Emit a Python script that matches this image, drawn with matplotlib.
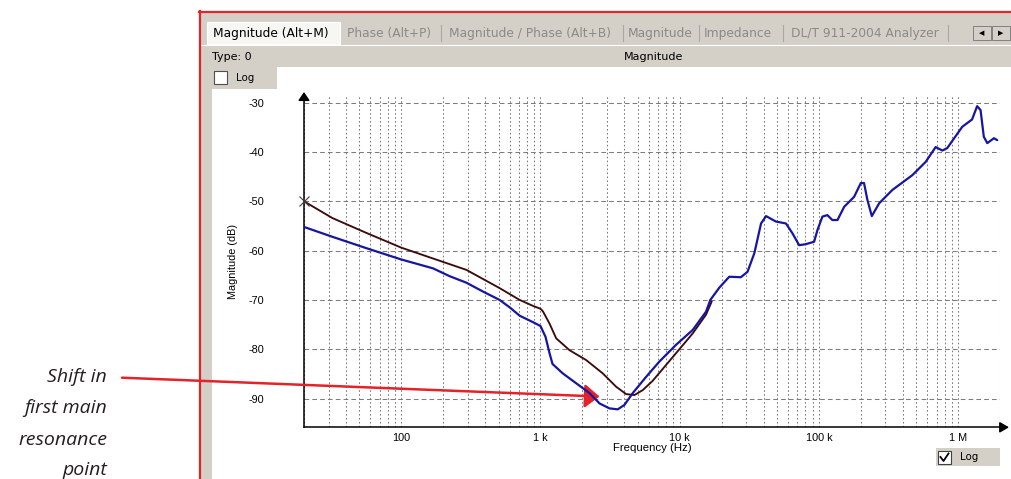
import matplotlib
matplotlib.use('Agg')
import matplotlib.pyplot as plt
from matplotlib.patches import Rectangle
from matplotlib.lines import Line2D
from matplotlib.ticker import FixedLocator, FixedFormatter, NullFormatter, LogLocator

plt.rcParams['axes.unicode_minus'] = False

W, H, DPI = 1012, 479, 100

# ---------------- data ----------------
brown_freq = [20, 32, 56, 100, 169, 293, 508, 708, 881, 1000, 1040, 1161, 1297,
              1616, 2128, 2800, 3491, 4120, 4729, 5425, 6400, 7980, 9950,
              12400, 15450, 17000]
brown_db = [-50.0, -53.4, -56.4, -59.4, -61.6, -63.9, -67.6, -70.0, -71.2, -71.8,
            -72.3, -74.8, -77.8, -80.2, -82.2, -84.9, -87.6, -89.1, -89.3, -88.3,
            -86.4, -83.2, -80.0, -76.8, -73.0, -70.3]

blue_freq = [20, 32, 56, 100, 169, 223, 293, 386, 508, 600, 708, 881, 1000, 1087,
             1161, 1220, 1445, 1803, 2249, 2655, 3127, 3589, 4009, 4600, 5741,
             7150, 9420, 12400, 15450, 16600, 19280, 22700, 27500, 30700, 34400,
             38400, 41700, 49100, 58000, 64600, 72100, 80500, 92400, 97700,
             106000, 115000, 125000, 136000, 152000, 179000, 200000, 211000,
             223000, 240000, 271000, 337000, 469000, 585000, 690000, 771000,
             836000, 1070000, 1260000, 1370000, 1450000, 1530000, 1620000,
             1810000, 1910000]
blue_db = [-55.2, -57.2, -59.5, -61.8, -63.6, -65.2, -66.5, -68.3, -70.0, -71.5,
           -73.2, -74.5, -75.3, -77.5, -80.8, -83.0, -84.9, -86.9, -88.9, -91.0,
           -92.0, -92.2, -91.3, -88.9, -85.6, -82.5, -79.1, -76.1, -72.4, -70.0,
           -67.5, -65.3, -65.4, -64.3, -60.5, -54.5, -53.0, -54.1, -54.5, -56.5,
           -58.9, -58.7, -58.2, -55.8, -53.1, -52.8, -53.8, -53.8, -51.1, -49.1,
           -46.3, -46.3, -49.7, -53.0, -50.4, -47.7, -44.7, -42.0, -39.0, -39.7,
           -39.2, -34.9, -33.4, -30.7, -31.5, -36.9, -38.2, -37.2, -37.6]

x_ticks = [100, 1e3, 1e4, 1e5, 1e6]
x_tick_labels = ['100', '1 k', '10 k', '100 k', '1 M']
y_ticks = [-90, -80, -70, -60, -50, -40, -30]
x_limits = (20, 2e6)
y_limits = (-95.84, -28.64)

tab_labels = ['Magnitude (Alt+M)', 'Phase (Alt+P)', 'Magnitude / Phase (Alt+B)',
              'Magnitude', 'Impedance', 'DL/T 911-2004 Analyzer']
annotation_lines = ['Shift in', 'first main', 'resonance', 'point']
annot_freq, annot_db = 2655, -89.6

# ---------------- styles ----------------
BLUE = '#1616a2'
BROWN = '#3c0c0c'
RED = '#e3232a'
PANEL = '#d4d0c8'
GRID = '#7c7c7c'
UI_FONT = 'DejaVu Sans'
AX_FONT = 'Liberation Sans'

fig = plt.figure(figsize=(W / DPI, H / DPI), dpi=DPI)
fig.patch.set_facecolor('white')


def px_rect(x0, y0, x1, y1, **kw):
    r = Rectangle((x0 / W, 1 - y1 / H), (x1 - x0) / W, (y1 - y0) / H,
                  transform=fig.transFigure, **kw)
    fig.patches.append(r)
    return r


def px_text(x, y, s, **kw):
    return fig.text(x / W, 1 - y / H, s, **kw)


def px_line(xs, ys, **kw):
    fig.add_artist(Line2D([x / W for x in xs], [1 - y / H for y in ys],
                          transform=fig.transFigure, **kw))


# window background
px_rect(200, 12, 1013, 480, facecolor=PANEL, edgecolor='none', zorder=0)
# tab strip
tab_x = [213, 347, 449, 628, 704, 791]
sep_x = [441, 623, 699, 783, 948]
px_rect(207, 22, 340, 44, facecolor='#f6f6f3', edgecolor='#ffffff', lw=0.8, zorder=1)
px_line([200, 1013], [44.5, 44.5], color='#ffffff', lw=0.8, zorder=1)
for i, (lab, tx) in enumerate(zip(tab_labels, tab_x)):
    px_text(tx, 33.5, lab, fontsize=8.8, family=UI_FONT,
            color='#000000' if i == 0 else '#8a8a8a', ha='left', va='center', zorder=2)
for sx in sep_x:
    px_line([sx, sx], [25, 41], color='#a8a8a8', lw=0.8, zorder=1)
# scroll buttons
for bx0, glyph in [(973, '\u25C0'), (992, '\u25B6')]:
    px_rect(bx0, 26, bx0 + 18, 40, facecolor=PANEL, edgecolor='#808080', lw=0.7, zorder=1)
    px_text(bx0 + 9, 33, glyph, fontsize=5, family=UI_FONT, color='k',
            ha='center', va='center', zorder=2)

px_text(212, 57.5, 'Type: 0', fontsize=8, family=UI_FONT, color='k',
        ha='left', va='center', zorder=2)
px_text(654, 57.5, 'Magnitude', fontsize=8, family=UI_FONT, color='k',
        ha='center', va='center', zorder=2)

# white plot panel
px_rect(212, 67, 1013, 480, facecolor='white', edgecolor='none', zorder=1)
px_rect(200, 67, 277, 89, facecolor=PANEL, edgecolor='none', zorder=1)
px_rect(214, 71, 227, 84, facecolor='white', edgecolor='#505050', lw=0.8, zorder=2)
px_text(236, 78, 'Log', fontsize=7.4, family=UI_FONT, color='k',
        ha='left', va='center', zorder=2)
# bottom-right Log box
px_rect(936, 448, 1000, 466, facecolor=PANEL, edgecolor='none', zorder=1)
px_rect(938, 451, 951, 464, facecolor='white', edgecolor='#404040', lw=0.8, zorder=2)
px_line([940.5, 943.5, 948.5], [457, 461, 453.5], color='k', lw=1.3, zorder=3)
px_text(960, 457.5, 'Log', fontsize=7.4, family=UI_FONT, color='k',
        ha='left', va='center', zorder=2)

# red window border
px_line([200, 200], [11, 480], color=RED, lw=1.6, zorder=4)
px_line([199, 1013], [12, 12], color=RED, lw=1.6, zorder=4)

# ---------------- axes ----------------
ax_top, ax_bot, ax_left, ax_right = 96, 427.3, 304, 1000
ax = fig.add_axes([ax_left / W, 1 - ax_bot / H, (ax_right - ax_left) / W,
                   (ax_bot - ax_top) / H])
ax.set_zorder(5)
ax.patch.set_alpha(0)
ax.set_xscale('log')
ax.set_xlim(*x_limits)
ax.set_ylim(*y_limits)

ax.xaxis.set_major_locator(FixedLocator(x_ticks))
ax.xaxis.set_major_formatter(FixedFormatter(x_tick_labels))
ax.xaxis.set_minor_locator(LogLocator(base=10, subs=range(2, 10)))
ax.xaxis.set_minor_formatter(NullFormatter())
ax.yaxis.set_major_locator(FixedLocator(y_ticks))

ax.grid(True, which='major', axis='y', ls=(0, (4.5, 3)), color=GRID, lw=0.75)
ax.grid(True, which='both', axis='x', ls=(0, (1.6, 2.2)), color=GRID, lw=0.75)

for s in ['top', 'right']:
    ax.spines[s].set_visible(False)
for s in ['left', 'bottom']:
    ax.spines[s].set_color('k')
    ax.spines[s].set_linewidth(1.1)

ax.tick_params(axis='both', which='both', length=0, labelsize=7.8, colors='k')
ax.tick_params(axis='y', pad=28.5)
ax.tick_params(axis='x', pad=4)
for lab in ax.get_xticklabels() + ax.get_yticklabels():
    lab.set_family(AX_FONT)

ax.set_ylabel('Magnitude (dB)', fontsize=7.8, family=AX_FONT)
ax.yaxis.set_label_coords((238 - ax_left) / (ax_right - ax_left), 0.5)
ax.set_xlabel('Frequency (Hz)', fontsize=8.2, family=AX_FONT)
ax.xaxis.set_label_coords(0.5, -(443 - ax_bot) / (ax_bot - ax_top))

# axis arrow heads
ax.annotate('', xy=(1 + 9 / (ax_right - ax_left), 0), xytext=(1, 0),
            xycoords='axes fraction', textcoords='axes fraction',
            arrowprops=dict(arrowstyle='-|>,head_length=0.55,head_width=0.32',
                            color='k', lw=1.1, mutation_scale=10,
                            shrinkA=0, shrinkB=0), annotation_clip=False)
ax.annotate('', xy=(0, 1 + 4 / (ax_bot - ax_top)), xytext=(0, 1),
            xycoords='axes fraction', textcoords='axes fraction',
            arrowprops=dict(arrowstyle='-|>,head_length=0.5,head_width=0.34',
                            color='k', lw=1.1, mutation_scale=10,
                            shrinkA=0, shrinkB=0), annotation_clip=False)

# curves
ax.plot(brown_freq, brown_db, color=BROWN, lw=1.35, solid_joinstyle='round',
        solid_capstyle='round', zorder=3)
ax.plot(blue_freq, blue_db, color=BLUE, lw=1.6, solid_joinstyle='round',
        solid_capstyle='round', zorder=4)
ax.plot(brown_freq[:1], brown_db[:1], marker='x', ms=7, mew=0.8, color='#404040',
        ls='none', clip_on=False, zorder=5)

# annotation arrow
ax.annotate('', xy=(annot_freq, annot_db), xycoords='data',
            xytext=(122 / W, 1 - 377.7 / H), textcoords='figure fraction',
            arrowprops=dict(arrowstyle='-|>,head_length=0.45,head_width=0.36',
                            color=RED, lw=1.8, mutation_scale=20,
                            shrinkA=0, shrinkB=0), annotation_clip=False)

line_y = [377, 408, 440, 470]
for txt, yy in zip(annotation_lines, line_y):
    px_text(107, yy, txt, fontsize=14, family='Open Sans', style='italic',
            color='#231f20', ha='right', va='center', zorder=6)

fig.savefig('out.png', dpi=DPI)
